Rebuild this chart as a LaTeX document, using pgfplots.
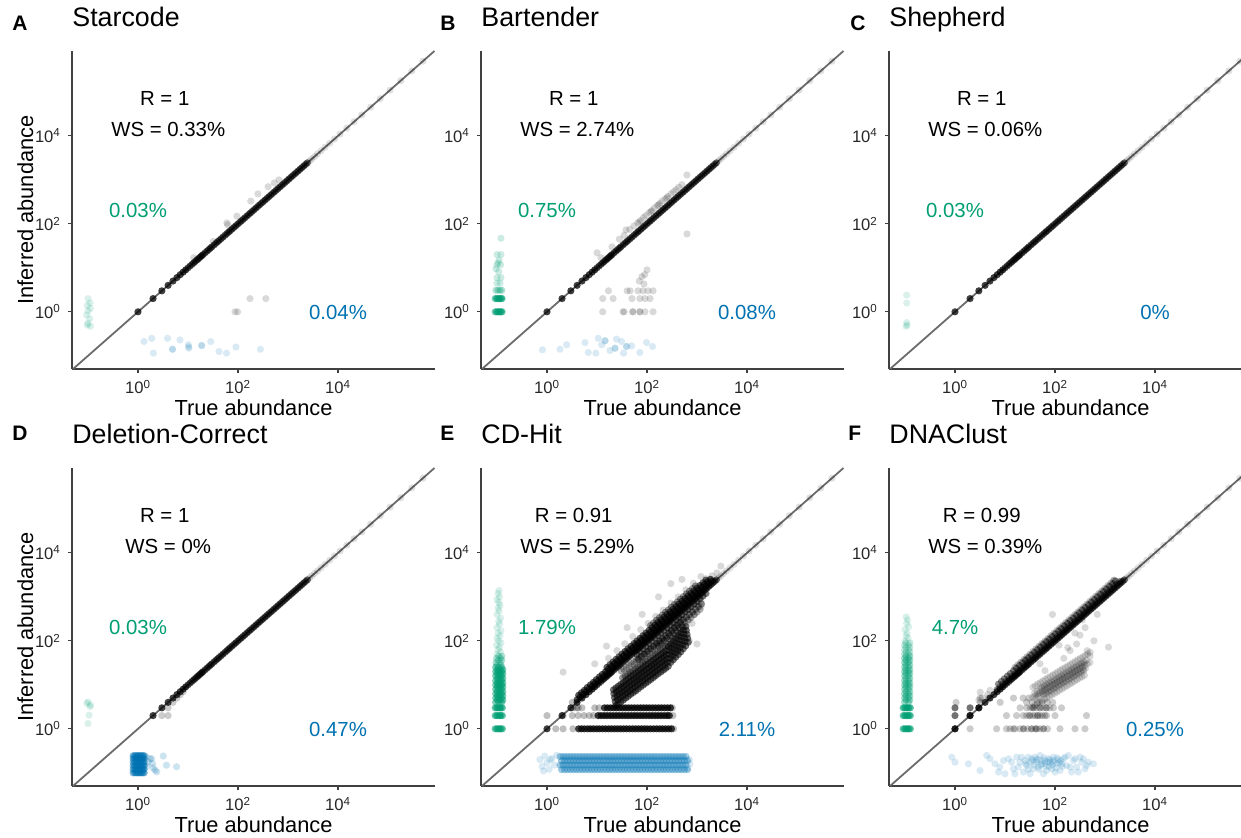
\documentclass[border=0pt]{standalone}
\usepackage{pgfplots}
\pgfplotsset{compat=1.18}
\usepackage{fontspec}
\setmainfont{Liberation Sans}
\definecolor{okgreen}{HTML}{009E73}
\definecolor{okblue}{HTML}{0072B2}
\newcommand\annfont{\fontsize{10.2}{12}\selectfont}
\pgfplotsset{mkk/.style={only marks, mark=*, mark size=1.8pt, mark options={draw opacity=0, fill=black, fill opacity=#1}}}
\pgfplotsset{mkg/.style={only marks, mark=*, mark size=1.8pt, mark options={draw opacity=0, fill=okgreen, fill opacity=#1}}}
\pgfplotsset{mkb/.style={only marks, mark=*, mark size=1.8pt, mark options={draw opacity=0, fill=okblue, fill opacity=#1}}}
\pgfplotsset{mypanel/.style={
    scale only axis, width=181.5pt, height=159pt, anchor=south west,
    xmin=0.04786, xmax=870964, ymin=0.050119, ymax=851138,
    axis lines=left, axis line style={-, draw=black!75, line width=0.6pt},
    tick style={draw=black!75, line width=0.6pt},
    tick align=outside, major tick length=2pt,
    xtick={1,100,10000}, ytick={1,100,10000},
    xticklabels={\mbox{10\textsuperscript{0}},\mbox{10\textsuperscript{2}},\mbox{10\textsuperscript{4}}},
    yticklabels={\mbox{10\textsuperscript{0}},\mbox{10\textsuperscript{2}},\mbox{10\textsuperscript{4}}},
    minor xtick={}, minor ytick={},
    ticklabel style={font=\fontsize{8.3}{10}\selectfont, text=black!85},
    xlabel={True abundance},
    xlabel style={at={(axis description cs:0.5,-0.1447)}, anchor=base, font=\fontsize{10.9}{13}\selectfont},
    ylabel style={at={(axis description cs:-0.1074,0.5)}, anchor=base, font=\fontsize{10.9}{13}\selectfont},
    title style={at={(axis description cs:0,1.039)}, anchor=base west, inner sep=0pt, font=\fontsize{13.4}{16}\selectfont},
    clip=false,
  }}
\pgfplotstableread{
x y
2 2
3 3
4 4
5 5
6 6
7 7
8 8
9 9
}\diagint
\pgfplotstableread{
x y
10 10
11 11
12 12
13 13
14 14
15 15
16 16
17 17
18 18
19 19
20 20
22 22
24 24
26 26
28 28
30 30
33 33
36 36
39 39
42 42
46 46
50 50
55 55
60 60
65 65
70 70
76 76
83 83
90 90
98 98
107 107
116 116
126 126
137 137
150 150
163 163
177 177
193 193
210 210
228 228
248 248
270 270
294 294
320 320
348 348
379 379
412 412
448 448
488 488
531 531
578 578
629 629
684 684
745 745
810 810
882 882
960 960
1045 1045
1137 1137
1238 1238
1347 1347
1466 1466
1596 1596
1737 1737
1890 1890
2057 2057
2239 2239
2437 2437
}\diagband
\pgfplotstableread{
x y
2700 2700
3000 3000
3400 3400
3900 3900
4600 4600
5500 5500
6800 6800
8500 8500
11000 11000
15000 15000
21000 21000
30000 30000
45000 45000
70000 70000
110000 110000
180000 180000
300000 300000
500000 500000
}\diaghigh
\pgfplotstableread{
x y
15.8 25
18.2 28.8
20.9 33
24 38
27.5 43.5
31.6 50
36.3 57.4
41.7 66
47.9 75.7
55 87
63 99.6
72.4 114
83 131
95.5 151
110 174
126 199
145 229
166 262
190 300
219 346
251 397
288 455
331 523
380 600
437 690
501 792
575 909
661 1044
759 1200
871 1376
1000 1580
1148 1814
1318 2083
1514 2392
}\uprow
\newcommand\diagpts{%
  \addplot[mkk=0.75] table {\diagint};
  \addplot[mkk=0.6] table {\diagband};
  \addplot[mkk=0.12] table {\diaghigh};
}
\newcommand\diagline{\addplot[draw=black!58, line width=0.9pt, no marks] coordinates {(0.0502,0.0502)(851000,851000)};}
\newcommand\ann[4]{%
  \node[anchor=base, font=\annfont] at (axis cs:3.43,47900) {R = #1};
  \node[anchor=base, font=\annfont] at (axis cs:4.03,9550) {WS = #2};
  \node[anchor=base, font=\annfont, text=okgreen] at (axis cs:1,138) {#3};
  \node[anchor=base, font=\annfont, text=okblue] at (axis cs:10000,0.66) {#4};
}
\newcommand\letter[3]{\node[anchor=base west, inner sep=0pt, font=\bfseries\fontsize{10.5}{12}\selectfont] at (axis description cs:#1,#2) {#3};}
\begin{document}
\begin{tikzpicture}
\useasboundingbox (0,0) rectangle (620.5pt,418.5pt);
% ---------------- A Starcode
\begin{loglogaxis}[mypanel, at={(36pt,234pt)}, title={Starcode}, ylabel={Inferred abundance}]
\addplot[mkk=0.75] coordinates {(1,1)};
\diagpts
\addplot[mkk=0.15] coordinates {(13,17)(32,40)(60,105)(62,95)(95,150)(180,330)(250,480)(400,700)(530,850)(660,1000)(174,2)(360,2)(87,1)(98,1)};
\addplot[mkg=0.15] coordinates {(0.1,2.0)(0.11,1.6)(0.097,1.4)(0.112,1.2)(0.1,1.05)(0.094,0.85)(0.108,0.7)(0.1,0.55)(0.112,0.47)(0.097,0.5)};
\addplot[mkb=0.15] coordinates {(1.32,0.211)(1.88,0.25)(2.03,0.115)(3.9,0.25)(4.9,0.141)(6.9,0.23)(10.2,0.178)(10.4,0.149)(18.8,0.171)(28.5,0.211)(41.7,0.125)(59,0.115)(91,0.158)(280,0.141)(4.9,0.141)(10.3,0.16)(18.8,0.171)};
\diagline
\ann{1}{0.33\%}{0.03\%}{0.04\%}
\letter{-0.1653}{1.066}{A}
\end{loglogaxis}
% ---------------- B Bartender
\begin{loglogaxis}[mypanel, at={(240.5pt,234pt)}, title={Bartender}]
\addplot[mkk=0.75] coordinates {(1,1)};
\diagpts
\addplot[mkk=0.15] coordinates {(20,30)(28,45)(35,55)(45,75)(55,90)(65,105)(75,120)(85,140)(95,155)(110,180)(125,200)(140,230)(160,260)(180,290)(200,330)(230,370)(260,420)(300,480)(340,540)(380,600)(430,680)(500,780)(12,17)(630,1290)(630,59)(10,22)(38,73)(70,110)(120,190)(170,270)(250,390)};
\addplot[mkk=0.15] coordinates {(13,1)(33,1)(35,1)(52,1)(72,1)(91,1)(132,1)(52,1)(72,1)(13,2)(21,2)(50,2)(72,2)(91,2)(115,2)(17,3)(40,3)(46,3)(66,3)(83,3)(105,3)(132,3)(79,6.3)(87,4.3)(100,9)(70,5)(90,7)};
\addplot[mkg=0.5] coordinates {(0.092,1)(0.097,1)(0.102,1)(0.107,1)(0.112,1)(0.117,1)(0.122,1)(0.127,1)(0.092,2)(0.097,2)(0.102,2)(0.107,2)(0.112,2)(0.117,2)(0.122,2)(0.127,2)};
\addplot[mkg=0.3] coordinates {(0.095,3.1)(0.105,3.1)(0.115,3.1)(0.125,3.1)};
\addplot[mkg=0.2] coordinates {(0.1,4.5)(0.115,4.5)(0.1,6)(0.12,6)(0.108,8.2)(0.1,11.7)(0.118,11.7)(0.11,15)(0.1,20)(0.12,20)(0.12,47)(0.105,13)(0.095,9.5)};
\addplot[mkb=0.15] coordinates {(0.81,0.137)(1.82,0.141)(2.47,0.178)(5.75,0.2)(6.7,0.119)(9.5,0.115)(10.6,0.25)(12.4,0.178)(14.5,0.22)(18.2,0.132)(22.9,0.149)(24.5,0.24)(31,0.211)(34,0.115)(39,0.163)(49,0.168)(72,0.119)(98,0.2)(129,0.163)(14.5,0.22)(22.9,0.149)(39,0.163)};
\diagline
\ann{1}{2.74\%}{0.75\%}{0.08\%}
\letter{-0.1129}{1.066}{B}
\end{loglogaxis}
% ---------------- C Shepherd
\begin{loglogaxis}[mypanel, at={(444.5pt,234pt)}, title={Shepherd}]
\addplot[mkk=0.75] coordinates {(1,1)};
\diagpts
\addplot[mkg=0.15] coordinates {(0.108,2.4)(0.108,1.58)(0.108,0.57)(0.105,0.47)(0.11,0.5)};
\diagline
\ann{1}{0.06\%}{0.03\%}{0\%}
\letter{-0.1074}{1.066}{C}
\end{loglogaxis}
% ---------------- D Deletion-Correct
\begin{loglogaxis}[mypanel, at={(36pt,25.5pt)}, title={Deletion-Correct}, ylabel={Inferred abundance}]
\diagpts
\addplot[mkk=0.2] coordinates {(3,2)(4,2)(4,3)(5,4)(6,5)(7,6)(8,7)};
\addplot[mkg=0.15] coordinates {(0.1,4.1)(0.11,3.2)(0.105,2.05)(0.1,1.32)(0.112,3.5)(0.095,3.8)};
\addplot[mkb=0.5] coordinates {
(0.8,0.1)(0.86,0.1)(0.92,0.1)(0.98,0.1)(1.04,0.1)(1.1,0.1)(1.17,0.1)(1.25,0.1)(1.33,0.1)
(0.8,0.12)(0.86,0.12)(0.92,0.12)(0.98,0.12)(1.04,0.12)(1.1,0.12)(1.17,0.12)(1.25,0.12)(1.33,0.12)
(0.8,0.145)(0.86,0.145)(0.92,0.145)(0.98,0.145)(1.04,0.145)(1.1,0.145)(1.17,0.145)(1.25,0.145)(1.33,0.145)
(0.8,0.175)(0.86,0.175)(0.92,0.175)(0.98,0.175)(1.04,0.175)(1.1,0.175)(1.17,0.175)(1.25,0.175)(1.33,0.175)
(0.8,0.21)(0.86,0.21)(0.92,0.21)(0.98,0.21)(1.04,0.21)(1.1,0.21)(1.17,0.21)(1.25,0.21)(1.33,0.21)
(0.8,0.245)(0.86,0.245)(0.92,0.245)(0.98,0.245)(1.04,0.245)(1.1,0.245)(1.17,0.245)(1.25,0.245)(1.33,0.245)};
\addplot[mkb=0.2] coordinates {(1.6,0.178)(1.74,0.21)(1.87,0.21)(1.95,0.163)(2.19,0.115)(2.37,0.105)(3.2,0.24)(3.7,0.149)(5.9,0.137)(1.5,0.14)(2.0,0.13)(1.45,0.235)};
\diagline
\ann{1}{0\%}{0.03\%}{0.47\%}
\letter{-0.1653}{1.085}{D}
\end{loglogaxis}
% ---------------- E CD-Hit
\begin{loglogaxis}[mypanel, at={(240.5pt,25.5pt)}, title={CD-Hit}]
\addplot[mkg=0.6] coordinates {(0.092,1)(0.099,1)(0.106,1)(0.113,1)(0.12,1)(0.128,1)(0.092,2)(0.099,2)(0.106,2)(0.113,2)(0.12,2)(0.128,2)(0.092,3)(0.099,3)(0.106,3)(0.113,3)(0.12,3)(0.128,3)};
\addplot[mkg=0.5] coordinates {
(0.094,4)(0.108,4)(0.124,4)(0.101,4.5)(0.116,4.5)(0.131,4.5)(0.094,5)(0.108,5)(0.124,5)(0.101,5.6)(0.116,5.6)(0.131,5.6)
(0.094,6.3)(0.108,6.3)(0.124,6.3)(0.101,7)(0.116,7)(0.131,7)(0.094,8)(0.108,8)(0.124,8)(0.101,9)(0.116,9)(0.131,9)
(0.094,10)(0.108,10)(0.124,10)(0.101,11)(0.116,11)(0.131,11)(0.094,12.5)(0.108,12.5)(0.124,12.5)(0.101,14)(0.116,14)(0.131,14)
(0.094,16)(0.108,16)(0.124,16)(0.101,18)(0.116,18)(0.131,18)(0.094,20)(0.108,20)(0.124,20)(0.101,22)(0.116,22)(0.131,22)
(0.094,25)(0.108,25)(0.124,25)};
\addplot[mkg=0.3] coordinates {(0.1,28)(0.12,28)(0.095,32)(0.115,32)(0.105,36)(0.125,36)(0.098,40)(0.118,40)(0.108,45)(0.125,45)};
\addplot[mkg=0.15] coordinates {(0.1,50)(0.118,56)(0.105,63)(0.112,71)(0.098,80)(0.12,90)(0.108,100)(0.1,115)(0.115,130)(0.105,150)(0.12,170)(0.1,200)(0.112,240)(0.108,280)(0.118,330)(0.1,400)(0.11,480)(0.105,560)(0.115,650)(0.108,750)(0.1,870)(0.112,1000)(0.105,1200)(0.11,1400)};
\addplot[mkb=0.38] coordinates {
(1.82,0.235)(2.09,0.235)(2.40,0.235)(2.75,0.235)(3.16,0.235)(3.63,0.235)(4.17,0.235)(4.79,0.235)(5.5,0.235)(6.31,0.235)(7.24,0.235)(8.32,0.235)(9.55,0.235)(11,0.235)(12.6,0.235)(14.5,0.235)(16.6,0.235)(19.1,0.235)(21.9,0.235)(25.1,0.235)(28.8,0.235)(33.1,0.235)(38,0.235)(43.7,0.235)(50.1,0.235)(57.5,0.235)(66.1,0.235)(75.9,0.235)(87.1,0.235)(100,0.235)(115,0.235)(132,0.235)(151,0.235)(174,0.235)(200,0.235)(229,0.235)(263,0.235)(302,0.235)(347,0.235)(398,0.235)(457,0.235)(525,0.235)(603,0.235)
(1.95,0.19)(2.24,0.19)(2.57,0.19)(2.95,0.19)(3.39,0.19)(3.89,0.19)(4.47,0.19)(5.13,0.19)(5.89,0.19)(6.76,0.19)(7.76,0.19)(8.91,0.19)(10.2,0.19)(11.7,0.19)(13.5,0.19)(15.5,0.19)(17.8,0.19)(20.4,0.19)(23.4,0.19)(26.9,0.19)(30.9,0.19)(35.5,0.19)(40.7,0.19)(46.8,0.19)(53.7,0.19)(61.7,0.19)(70.8,0.19)(81.3,0.19)(93.3,0.19)(107,0.19)(123,0.19)(141,0.19)(162,0.19)(186,0.19)(214,0.19)(245,0.19)(282,0.19)(324,0.19)(372,0.19)(427,0.19)(490,0.19)(562,0.19)(646,0.19)
(1.82,0.15)(2.09,0.15)(2.40,0.15)(2.75,0.15)(3.16,0.15)(3.63,0.15)(4.17,0.15)(4.79,0.15)(5.5,0.15)(6.31,0.15)(7.24,0.15)(8.32,0.15)(9.55,0.15)(11,0.15)(12.6,0.15)(14.5,0.15)(16.6,0.15)(19.1,0.15)(21.9,0.15)(25.1,0.15)(28.8,0.15)(33.1,0.15)(38,0.15)(43.7,0.15)(50.1,0.15)(57.5,0.15)(66.1,0.15)(75.9,0.15)(87.1,0.15)(100,0.15)(115,0.15)(132,0.15)(151,0.15)(174,0.15)(200,0.15)(229,0.15)(263,0.15)(302,0.15)(347,0.15)(398,0.15)(457,0.15)(525,0.15)(603,0.15)
(1.95,0.118)(2.24,0.118)(2.57,0.118)(2.95,0.118)(3.39,0.118)(3.89,0.118)(4.47,0.118)(5.13,0.118)(5.89,0.118)(6.76,0.118)(7.76,0.118)(8.91,0.118)(10.2,0.118)(11.7,0.118)(13.5,0.118)(15.5,0.118)(17.8,0.118)(20.4,0.118)(23.4,0.118)(26.9,0.118)(30.9,0.118)(35.5,0.118)(40.7,0.118)(46.8,0.118)(53.7,0.118)(61.7,0.118)(70.8,0.118)(81.3,0.118)(93.3,0.118)(107,0.118)(123,0.118)(141,0.118)(162,0.118)(186,0.118)(214,0.118)(245,0.118)(282,0.118)(324,0.118)(372,0.118)(427,0.118)(490,0.118)(562,0.118)(646,0.118)};
\addplot[mkb=0.15] coordinates {(0.72,0.2)(0.8,0.14)(0.9,0.24)(1.0,0.17)(1.1,0.12)(1.25,0.21)(1.4,0.15)(1.55,0.25)(0.85,0.11)(1.15,0.2)(700,0.2)(660,0.13)(720,0.16)};
\addplot[mkk=0.75] coordinates {
(4.3,1)(4.9,1)(5.6,1)(6.5,1)(7.4,1)(8.5,1)(9.8,1)(11.2,1)(12.9,1)(14.8,1)(17,1)(19.5,1)(22.4,1)(25.7,1)(29.5,1)(33.9,1)(38.9,1)(44.7,1)(51.3,1)(58.9,1)(67.6,1)(77.6,1)(89.1,1)(102,1)(117,1)(135,1)(155,1)(178,1)(204,1)(234,1)(269,1)(309,1)
(10.5,2)(12,2)(13.8,2)(15.8,2)(18.2,2)(20.9,2)(24,2)(27.5,2)(31.6,2)(36.3,2)(41.7,2)(47.9,2)(55,2)(63,2)(72.4,2)(83,2)(95.5,2)(110,2)(126,2)(145,2)(166,2)(190,2)(219,2)(251,2)(280,2)
(14.1,3)(16.2,3)(18.6,3)(21.4,3)(24.5,3)(28.2,3)(32.4,3)(37.2,3)(42.7,3)(49,3)(56.2,3)(64.6,3)(74.1,3)(85.1,3)(97.7,3)(112,3)(129,3)(148,3)(170,3)(195,3)(224,3)(257,3)(295,3)};
\addplot[mkk=0.25] coordinates {(1,2)(2.1,2)(2.1,1)(3.3,1)(3.3,3)(3.9,3)(3.2,2)(4.2,2)(5.5,2)(7,2)(8.5,2)(4.2,3)(5,3)(9,3)(11,3)(3.2,4)(330,2)(320,3)(340,1)(1.5,1)};
\addplot[mkk=0.42] coordinates {(32.5,14.4)(36.6,15.8)(41,17.4)(46,19.3)(51.6,21.2)(57.9,23.3)(65,25.8)(72.9,28.6)(81.8,31.5)(91.8,34.7)(103,38.2)(115,42)(130,46.4)(145,51.2)(163,56.5)(183,62.4)(206,68.7)(231,75.8)(259,83.6)(290,103)(325,118)(366,136)(410,156)(460,179)(516,210)};
\addplot[mkk=0.32] coordinates {(30.7,20.5)(34.4,22.5)(38.6,24.9)(43.4,27.6)(48.6,30.3)(54.5,33.3)(61.2,36.9)(68.7,40.8)(77,45)(86.4,49.5)(97,54.6)(109,60)(122,66.3)(137,73.2)(153,80.7)(173,89.1)(194,98.1)(217,108)(243,119)(274,147)(307,169)(344,194)(386,222)(434,255)(486,300)};
\addplot[mkk=0.65] coordinates {
(4,4.6)(4.6,5.3)(5.2,6)(6,6.9)(6.9,7.9)(7.9,9.1)(9.1,10.5)(10.5,12.1)(12,13.8)(13.8,15.9)(15.8,18.2)(18.2,20.9)(20.9,24)(24,27.6)(27.5,31.6)(31.6,36.3)(36.3,41.7)(41.7,48)(47.9,55)(55,63)(63,72.5)(72.4,83)(83,95.5)(95.5,110)(110,126)(126,145)(145,167)(166,191)(190,219)(219,252)(251,289)(288,331)(331,381)(380,437)(437,503)(501,576)(575,661)(661,760)(759,873)(871,1000)(1000,1150)(1148,1320)(1318,1516)(1514,1741)(1738,2000)(1995,2294)
(4.3,5.8)(4.9,6.6)(5.6,7.5)(6.4,8.7)(7.4,10)(8.5,11.4)(9.7,13.1)(11.2,15.2)(12.8,17.3)(14.8,19.9)(16.9,22.8)(19.5,26.3)(22.4,30.2)(25.7,34.7)(29.4,39.7)(33.8,45.7)(38.8,52.5)(44.6,60.3)(51.3,69.2)(58.9,79.5)(67.4,91)(77.5,104.6)(88.8,120)(102,138)(118,159)(135,182)(155,209)(178,240)(203,274)(234,316)(269,363)(308,416)(354,478)(407,549)(468,631)(536,724)(615,830)(707,955)(812,1097)(932,1259)(1070,1445)(1228,1658)(1410,1904)(1620,2187)(1860,2511)};
\addplot[mkk=0.6] table {\uprow};
\addplot[mkk=0.4] coordinates {
(117.7,224)(135,256)(155,295)(178,338)(203,386)(234,445)(269,511)(308,585)(354,673)(407,773)(468,889)(536,1018)(615,1169)(707,1344)(812,1543)(932,1771)};
\addplot[mkk=0.15] coordinates {(17,40)(25,60)(36,86)(52,125)(75,180)(105,250)(150,360)(210,500)(300,720)(420,1000)(600,1450)(850,2050)(1200,2900)};
\addplot[mkk=0.5] coordinates {(63,49.8)(72.4,57.2)(83,65.6)(95.5,75.4)(110,86.9)(126,99.5)(145,115)(166,131)(190,150)(219,173)(251,198)(288,228)(331,261)(380,300)(437,345)(501,396)(575,454)(661,522)(759,600)(871,688)(1000,790)(1148,907)(1318,1041)(1514,1196)};
\addplot[mkk=0.42] coordinates {(67.4,37.8)(77.5,43.4)(88.8,49.8)(102,57.3)(118,66)(135,75.6)(155,87)(178,99.6)(203,114)(234,131)(269,151)(308,173)(354,199)(407,228)(468,262)(536,301)(615,345)(707,397)(812,455)(932,523)(1070,600)(1228,689)};
\addplot[mkk=0.3] coordinates {(166,75)(190,86)(219,99)(251,113)(288,130)(331,149)(380,171)(437,197)(501,225)(575,259)(661,297)(759,342)(871,392)(1000,450)(1148,517)};
\addplot[mkk=0.55] coordinates {
(22.4,5.1)(25.1,5.62)(28.2,6.2)(31.6,6.84)(35.5,7.5)(39.8,8.3)(44.7,9.2)(50.1,10.1)(56.2,11.1)(63.1,12.3)(70.8,13.6)(79.4,15)(89.1,16.5)(100,18.2)(112,20)(126,22.1)(141,24.4)(158,26.9)(178,29.7)(200,32.7)(224,36.1)(251,39.8)(282,49)(316,56.2)(355,64.6)(398,74.1)(447,85.1)(501,100)(562,117)(631,141)
(23.7,3.4)(26.6,3.7)(29.9,4.1)(33.5,4.5)(37.6,5)(42.2,5.5)(47.4,6.1)(53.1,6.7)(59.6,7.3)(66.9,8.1)(75,9)(84.2,9.9)(94.4,10.9)(106,12)(119,13.2)(134,14.6)(149,16.1)(167,17.8)(189,19.6)(212,21.6)(237,23.8)(266,26.3)(299,32.3)(335,37.1)(376,42.6)(422,48.9)(474,56.2)(531,66)(596,77.2)(669,93)
(21.3,7.7)(23.8,8.5)(26.8,9.4)(30,10.3)(33.7,11.3)(37.8,12.5)(42.5,13.9)(47.6,15.3)(53.4,16.8)(59.9,18.6)(67.3,20.5)(75.4,22.7)(84.6,24.9)(95,27.5)(106,30.2)(120,33.4)(134,36.8)(150,40.6)(169,44.8)(190,49.4)(213,54.5)(238,60.1)(268,74)(300,84.9)(337,97.5)(378,112)(425,129)(476,151)(534,177)(599,213)
(23.1,4.2)(25.9,4.6)(29,5.1)(32.5,5.6)(36.6,6.2)(41,6.8)(46,7.5)(51.6,8.3)(57.9,9.1)(65,10.1)(72.9,11.2)(81.8,12.3)(91.8,13.5)(103,14.9)(115,16.4)(130,18.1)(145,20)(163,22.1)(183,24.4)(206,26.8)(231,29.6)(259,32.6)(290,40.2)(325,46.1)(366,53)(410,60.8)(460,69.8)(516,82)(579,96)(650,116)
(21.7,6.3)(24.4,6.9)(27.4,7.6)(30.7,8.4)(34.4,9.2)(38.6,10.2)(43.4,11.3)(48.6,12.4)(54.5,13.7)(61.2,15.1)(68.7,16.7)(77,18.5)(86.4,20.3)(97,22.4)(109,24.6)(122,27.2)(137,30)(153,33.1)(173,36.5)(194,40.2)(217,44.4)(243,49)(274,60.3)(307,69.1)(344,79.5)(386,91.1)(434,105)(486,123)(545,144)(612,173)};
\addplot[mkk=0.15] coordinates {(45,20)(56,28)(63,40)(80,35)(100,50)(110,75)(130,60)(150,100)(160,80)(190,130)(200,95)(230,160)(250,120)(280,210)(300,150)(340,260)(370,200)(420,330)(450,250)(500,400)(550,320)(600,480)(650,400)(700,550)(800,500)(900,700)(1000,650)(1100,900)(1200,800)(1300,1100)(700,300)(800,250)(900,400)
(2.1,19.5)(15.5,76)(170,1000)(1000,85)(300,2000)(500,2500)(1200,600)(2000,3000)(9,30)(40,200)(80,400)(700,100)(1500,2600)(2500,3500)(3000,5000)};
\addplot[mkk=0.75] coordinates {(1,1)};
\diagpts
\diagline
\ann{0.91}{5.29\%}{1.79\%}{2.11\%}
\letter{-0.1129}{1.085}{E}
\end{loglogaxis}
% ---------------- F DNAClust
\begin{loglogaxis}[mypanel, at={(444.5pt,25.5pt)}, title={DNAClust}]
\addplot[mkg=0.6] coordinates {(0.092,1)(0.099,1)(0.106,1)(0.113,1)(0.12,1)(0.128,1)(0.092,2)(0.099,2)(0.106,2)(0.113,2)(0.12,2)(0.128,2)(0.092,3)(0.099,3)(0.106,3)(0.113,3)(0.12,3)(0.128,3)};
\addplot[mkg=0.35] coordinates {
(0.098,4)(0.118,4)(0.104,4.5)(0.125,4.5)(0.098,5)(0.118,5)(0.104,5.6)(0.125,5.6)(0.098,6.3)(0.118,6.3)(0.104,7)(0.125,7)(0.098,8)(0.118,8)(0.104,9)(0.125,9)
(0.098,10)(0.118,10)(0.104,11)(0.125,11)(0.098,12.5)(0.118,12.5)(0.104,14)(0.125,14)(0.098,16)(0.118,16)(0.104,18)(0.125,18)(0.098,20)(0.118,20)(0.104,22)(0.125,22)
(0.098,25)(0.118,25)(0.104,28)(0.125,28)(0.098,32)(0.118,32)(0.104,36)(0.125,36)(0.098,40)(0.118,40)(0.104,45)(0.125,45)};
\addplot[mkg=0.22] coordinates {(0.098,50)(0.118,50)(0.104,56)(0.125,56)(0.098,63)(0.118,63)(0.104,71)(0.125,71)(0.098,80)(0.118,80)(0.104,90)(0.125,90)};
\addplot[mkg=0.15] coordinates {(0.1,100)(0.115,115)(0.105,130)(0.11,150)(0.1,180)(0.118,210)(0.108,250)(0.112,300)(0.105,350)};
\addplot[mkb=0.15] coordinates {(0.86,0.227)(1,0.174)(1.85,0.16)(3.16,0.113)(4.3,0.248)(5,0.209)(6.3,0.16)(7.4,0.104)(9.3,0.19)(11.7,0.209)(14.7,0.123)(17.1,0.227)(20,0.174)(23.3,0.104)(27.1,0.147)(29.3,0.227)(34.1,0.209)(36.9,0.123)(43,0.174)(50.1,0.248)(58.5,0.095)(63.1,0.16)(73.6,0.209)(85.8,0.123)(92.6,0.227)(108,0.16)(126,0.113)(147,0.209)(171,0.147)(185,0.248)(215,0.104)(233,0.19)(271,0.135)(316,0.227)(341,0.174)(398,0.123)(464,0.174)(585,0.16)(25.1,0.19)(31.6,0.095)(46.4,0.135)(68.1,0.113)(79.4,0.174)(100,0.104)(136,0.16)(158,0.227)(200,0.135)(251,0.209)(293,0.104)(369,0.209)(430,0.147)(7.9,0.135)(10,0.095)(13.6,0.174)(15.8,0.095)(18.5,0.135)(21.5,0.227)(39.8,0.227)(54.1,0.19)
(32,0.17)(38,0.15)(42,0.2)(48,0.12)(55,0.16)(60,0.22)(66,0.14)(72,0.18)(80,0.2)(88,0.15)(95,0.19)(105,0.13)(115,0.2)(122,0.17)(140,0.14)(35,0.19)(45,0.2)(52,0.15)(62,0.19)(76,0.14)(90,0.17)(110,0.22)(130,0.19)(26,0.16)(29,0.12)};
\addplot[mkk=0.55] coordinates {(1,1)(1,2)(1,3)(2,2)(2,3)(3,3)};
\addplot[mkk=0.2] coordinates {(2,1)(6.8,1)(10.7,1)(12.6,1)(14.8,1)(15.8,1)(20,1)(23.4,1)(28.2,1)(33.9,1)(39.8,1)(42.7,1)(50.1,1)(58.9,1)(70.8,1)(126,1)(251,1)(398,1)(23.4,1)(33.9,1)(42.7,1)(58.9,1)
(10.7,2)(17,2)(23,2)(27,2)(31,2)(36,2)(40,2)(45,2)(50,2)(56,2)(63,2)(68,2)(100,2)(427,2)(31,2)(45,2)
(20,3)(27,3)(32,3)(37,3)(43,3)(50,3)(58,3)(67,3)(78,3)(93,3)(135,3)(37,3)(50,3)(67,3)
(1.05,4)(3.2,4)(27,4)(35,4)(45,4)(55,4)(70,4)(90,4)(8,4)(3.2,5)(4.7,5)(14.8,5)(23,5)(30,5)};
\addplot[mkk=0.45] coordinates {
(6.9,7.7)(7.9,8.8)(9.1,10.2)(10.5,11.8)(12,13.4)(13.8,15.5)(15.8,17.7)(18.2,20.4)(20.9,23.4)(24,26.9)(27.5,30.8)(31.6,35.4)(36.3,40.7)(41.7,46.7)(47.9,53.6)(55,61.6)(63,70.6)(72.4,81.1)(83,93)(95.5,107)(110,123)(126,141)(145,162)(166,186)(190,213)(219,245)(251,281)(288,323)(331,371)(380,426)(437,489)(501,561)(575,644)(661,740)(759,850)(871,976)(1000,1120)(1148,1286)(1318,1476)(1514,1696)(1738,1947)(1995,2234)
(7.4,10.4)(8.5,12)(9.7,13.7)(11.2,15.9)(12.8,18.1)(14.8,20.9)(16.9,23.9)(19.5,27.5)(22.4,31.6)(25.7,36.3)(29.4,41.5)(33.8,47.7)(38.8,54.8)(44.6,63)(51.3,72.4)(58.9,83.1)(67.4,95.2)(77.5,109)(88.8,125)(102,144)(118,166)(135,190)(155,219)(178,251)(203,287)(234,330)(269,380)(308,435)(354,500)(407,575)(468,661)(536,757)(615,868)(707,998)(812,1147)(932,1316)(1070,1511)(1228,1734)(1410,1991)(1620,2287)};
\addplot[mkk=0.22] table {\uprow};
\addplot[mkk=0.15] coordinates {(3.2,6.8)(3.5,5)(4.5,6)(5,7.5)(3,4.5)
(89,398)(1175,72)(270,85)(316,135)(63,21)(27,37)(1480,2350)(440,60)(500,45)(150,40)(200,60)(600,100)(350,300)(50,30)(120,80)(250,150)(180,70)(700,400)(400,200)};
\addplot[mkk=0.15] coordinates {
(35.5,5.2)(39.8,5.6)(44.7,6.2)(50.1,6.6)(56.2,7.2)(63.1,7.8)(70.8,8.4)(79.4,9.1)(89.1,9.8)(100,10.6)(112,11.5)(126,12.5)(141,13.5)(158,14.6)(178,15.8)(200,17.1)(224,18.6)(251,20.1)(282,21.8)(316,23.6)(355,25.5)(398,27.5)(447,29.9)(501,32.4)
(53.1,8.7)(59.6,9.5)(66.9,10.3)(75,11.1)(84.2,12)(94.4,12.9)(106,14)(119,15.2)(134,16.5)(149,17.8)(167,19.3)(189,20.9)(212,22.6)(237,24.6)(266,26.5)(299,28.8)(335,31.2)(376,33.7)(422,36.3)
(59.9,5.9)(67.3,6.4)(75.4,6.9)(84.6,7.4)(95,8.1)(106,8.7)(120,9.5)(134,10.3)(150,11.1)(169,12)(190,13)(213,14.1)(238,15.3)(268,16.6)(300,17.9)(337,19.4)(378,20.9)
(38.6,6.4)(43.4,7.1)(48.6,7.6)(54.5,8.3)(61.2,9)(68.7,9.7)(77,10.5)(86.4,11.3)(97,12.2)(109,13.2)(122,14.4)(137,15.5)(153,16.8)(173,18.2)(194,19.7)(217,21.4)(243,23.1)(274,25.1)(307,27.1)(344,29.3)(386,31.6)
(41,4.9)(46,5.4)(51.6,5.7)(57.9,6.3)(65,6.8)(72.9,7.3)(81.8,7.9)(91.8,8.5)(103,9.2)(115,10)(130,10.9)(145,11.7)(163,12.7)(183,13.7)(206,14.9)(231,16.2)(259,17.5)(290,19)(325,20.5)(366,22.2)(410,23.9)
(34.8,3.1)(39,3.4)(43.8,3.7)(49.1,4)(55.1,4.3)(61.8,4.7)(69.4,5)(77.8,5.5)(87.3,5.9)(98,6.4)(110,6.9)(123,7.5)(138,8.1)(155,8.8)(174,9.5)(196,10.3)(220,11.2)(246,12.1)(276,13.1)(310,14.2)(348,15.3)(390,16.5)
(35.9,8.8)(40.2,9.5)(45.1,10.5)(50.6,11.2)(56.8,12.2)(63.7,13.3)(71.5,14.3)(80.2,15.5)(90,16.7)(101,18)(113,19.6)(127,21.3)(142,23)(160,24.8)(180,26.9)(202,29.1)(226,31.6)(254,34.2)(285,37.1)(319,40.1)(359,43.4)(402,46.8)(451,50.8)(506,55.1)};
\addplot[mkk=0.75] coordinates {(1,1)};
\diagpts
\diagline
\ann{0.99}{0.39\%}{4.7\%}{0.25\%}
\letter{-0.1129}{1.085}{F}
\end{loglogaxis}
\end{tikzpicture}
\end{document}
